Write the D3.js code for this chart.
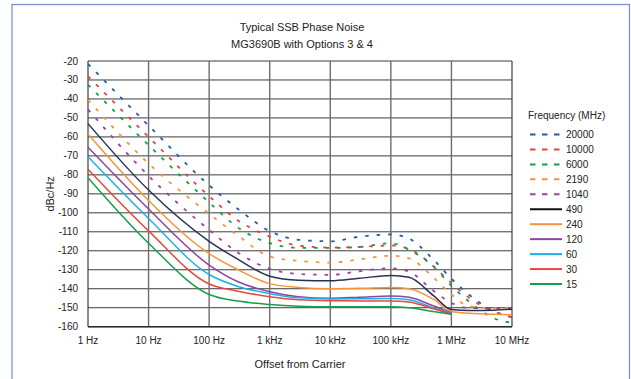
<!DOCTYPE html>
<html>
<head>
<meta charset="utf-8">
<script src="https://cdn.jsdelivr.net/npm/d3@7"></script>
<style>
  body { margin: 0; background: #fff; }
  text { font-family: "Liberation Sans", Arial, sans-serif; fill: #222; }
</style>
</head>
<body>
<div id="chart"></div>
<script>
// offsets from carrier (Hz) where the curves were read
const offsets = [1, 10, 100, 300, 1e3, 3e3, 1e4, 3e4, 1e5, 2e5, 5e5, 1e6, 2e6, 5e6, 1e7];
const xTicks = [1, 10, 100, 1e3, 1e4, 1e5, 1e6, 1e7];
const xTickLabels = ['1 Hz', '10 Hz', '100 Hz', '1 kHz', '10 kHz', '100 kHz', '1 MHz', '10 MHz'];
const yTicks = [-20, -30, -40, -50, -60, -70, -80, -90, -100, -110, -120, -130, -140, -150, -160];

// SSB phase noise, dBc/Hz, one array per carrier frequency (MHz)
const f20000 = [-21.5, -54, -85.5, -98, -109.6, -114.2, -115, -112.6, -111.4, -113.6, -124.5, -134.7, -143.4, -151.8, -155];
const f10000 = [-28, -60, -91.2, -104, -112.5, -117.3, -118.3, -118, -117.2, -119, -128, -137, -145, -152, -155];
const f6000 = [-32.5, -64.3, -94.5, -107.8, -116, -118.4, -118.5, -118, -116, -119.5, -128.2, -138.5, -147, -155.5, -158];
const f2190 = [-40.5, -74, -100.5, -112, -123, -125.3, -126.2, -124.6, -122.6, -124, -134, -143, -149.3, -150.2, -149.8];
const f1040 = [-45.5, -80.5, -109, -121, -129.5, -132.2, -132.7, -130.8, -129.2, -131, -141, -147.5, -150.2, -150.3, -150.3];
const f490 = [-53, -88, -115, -124.5, -133.4, -135.5, -135.8, -134.5, -133, -134, -143.5, -151, -151.5, -151.3, -150.8];
const f240 = [-58.5, -93.5, -121.5, -130, -137.3, -139.3, -140, -139.8, -139.3, -140, -145.5, -152, -152.9, -153.4, -153.8];
const f120 = [-65.5, -98, -127.5, -136.3, -141.6, -144.2, -145, -144.5, -143.8, -144.5, -149, -152.8, null, null, null];
const f60 = [-70.5, -103, -132.5, -138.8, -142.6, -144.8, -145.4, -145.3, -145.2, -145.8, -150, -153, null, null, null];
const f30 = [-77, -109.5, -137.5, -141.3, -144.2, -145.8, -146.3, -146.4, -146.4, -147, -150.5, -153.3, null, null, null];
const f15 = [-81.5, -116, -143, -146.5, -148.3, -149.2, -149.5, -149.5, -149.5, -150, -152, -153.4, null, null, null];

const seriesNames = ['20000', '10000', '6000', '2190', '1040', '490', '240', '120', '60', '30', '15'];
const seriesValues = [f20000, f10000, f6000, f2190, f1040, f490, f240, f120, f60, f30, f15];
const seriesColors = ['#1f5fad', '#e8413c', '#14a04a', '#f7943a', '#a23fa3', '#2a3157', '#f7943a', '#8e44a0', '#1bb1e7', '#e9483f', '#14a04a'];
const seriesDashed = [true, true, true, true, true, false, false, false, false, false, false];

const width = 631, height = 379;
const margin = { left: 88, right: 119, top: 61, bottom: 52.3 };

const svg = d3.select('#chart').append('svg')
  .attr('width', width)
  .attr('height', height);

// outer frame (runs off the bottom of the picture)
svg.append('rect')
  .attr('x', 12).attr('y', 4.5)
  .attr('width', 617.5).attr('height', 400)
  .attr('fill', 'none')
  .attr('stroke', '#8191d2')
  .attr('stroke-width', 1.3);

const x = d3.scaleLog().domain([1, 1e7]).range([margin.left, width - margin.right]);
const y = d3.scaleLinear().domain([-160, -20]).range([height - margin.bottom, margin.top]);

// grid
svg.append('g')
  .selectAll('line')
  .data(yTicks)
  .enter().append('line')
  .attr('x1', x(1)).attr('x2', x(1e7))
  .attr('y1', d => y(d)).attr('y2', d => y(d))
  .attr('stroke', '#3c3c3c')
  .attr('stroke-width', 1);

svg.append('g')
  .selectAll('line')
  .data(xTicks)
  .enter().append('line')
  .attr('x1', d => x(d)).attr('x2', d => x(d))
  .attr('y1', y(-20)).attr('y2', y(-160))
  .attr('stroke', d => (d === 1 || d === 1e7) ? '#3c3c3c' : '#6e6e6e')
  .attr('stroke-width', d => (d === 1 || d === 1e7) ? 1.2 : 1.4);

svg.append('line')
  .attr('x1', x(1)).attr('x2', x(1e7))
  .attr('y1', y(-160)).attr('y2', y(-160))
  .attr('stroke', '#2a2a2a').attr('stroke-width', 1.5);

// axes labels
svg.append('g')
  .selectAll('text')
  .data(yTicks)
  .enter().append('text')
  .attr('x', 78)
  .attr('y', d => y(d))
  .attr('dy', '0.35em')
  .attr('text-anchor', 'end')
  .style('font-size', '10px')
  .text(d => d);

svg.append('g')
  .selectAll('text')
  .data(xTicks)
  .enter().append('text')
  .attr('x', d => x(d))
  .attr('y', 340)
  .attr('dy', '0.35em')
  .attr('text-anchor', 'middle')
  .style('font-size', '10px')
  .text((d, i) => xTickLabels[i]);

svg.append('text')
  .attr('transform', `translate(50,${(y(-20) + y(-160)) / 2}) rotate(-90)`)
  .attr('dy', '0.35em')
  .attr('text-anchor', 'middle')
  .style('font-size', '11px')
  .text('dBc/Hz');

svg.append('text')
  .attr('x', (x(1) + x(1e7)) / 2)
  .attr('y', 364)
  .attr('dy', '0.35em')
  .attr('text-anchor', 'middle')
  .style('font-size', '11px')
  .text('Offset from Carrier');

// title
svg.append('text')
  .attr('x', 302).attr('y', 27).attr('dy', '0.35em')
  .attr('text-anchor', 'middle')
  .style('font-size', '11px')
  .text('Typical SSB Phase Noise');
svg.append('text')
  .attr('x', 302).attr('y', 44).attr('dy', '0.35em')
  .attr('text-anchor', 'middle')
  .style('font-size', '11px')
  .text('MG3690B with Options 3 & 4');

// curves
const line = d3.line()
  .defined(d => d[1] !== null)
  .x(d => x(d[0]))
  .y(d => y(d[1]))
  .curve(d3.curveMonotoneX);

svg.append('g')
  .selectAll('path')
  .data(seriesValues.map((vals, i) => ({ i: i, pts: offsets.map((o, k) => [o, vals[k]]) })))
  .enter().append('path')
  .attr('d', d => line(d.pts))
  .attr('fill', 'none')
  .attr('stroke', d => seriesColors[d.i])
  .attr('stroke-width', d => seriesDashed[d.i] ? 1.8 : 1.5)
  .attr('stroke-dasharray', d => seriesDashed[d.i] ? '3.5,8' : null);

// legend
const legend = svg.append('g');
legend.append('text')
  .attr('x', 528).attr('y', 115).attr('dy', '0.35em')
  .style('font-size', '10px')
  .text('Frequency (MHz)');

const item = legend.selectAll('g.item')
  .data(seriesNames)
  .enter().append('g')
  .attr('class', 'item')
  .attr('transform', (d, i) => `translate(0,${134.5 + i * 14.95})`);

item.append('line')
  .attr('x1', 530).attr('x2', 562)
  .attr('stroke', (d, i) => seriesColors[i] === '#2a3157' ? '#111' : seriesColors[i])
  .attr('stroke-width', 2)
  .attr('stroke-dasharray', (d, i) => seriesDashed[i] ? '5.5,6.5' : null);

item.append('text')
  .attr('x', 566).attr('dy', '0.35em')
  .style('font-size', '10px')
  .text(d => d);
</script>
</body>
</html>
